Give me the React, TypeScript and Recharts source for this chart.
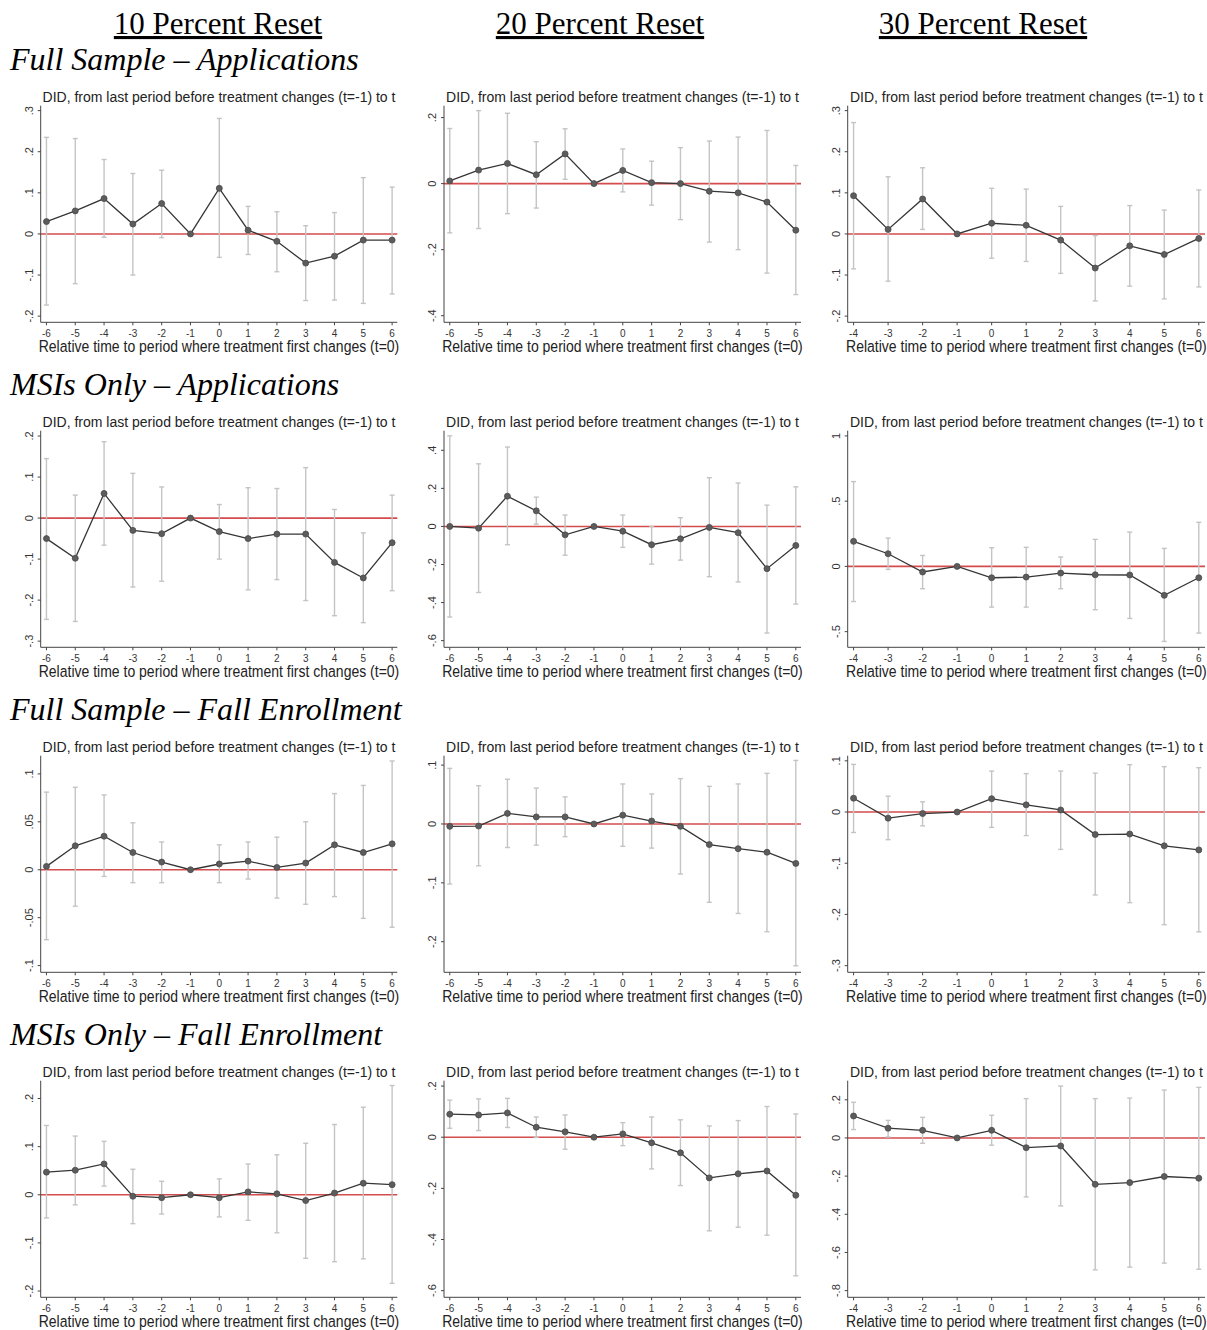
import { ComposedChart, ErrorBar, Line, ReferenceLine, XAxis, YAxis } from "recharts"

// relative time axes
const T_SIX = [-6, -5, -4, -3, -2, -1, 0, 1, 2, 3, 4, 5, 6]
const T_FOUR = [-4, -3, -2, -1, 0, 1, 2, 3, 4, 5, 6]

const COLUMN_HEADS = ["10 Percent Reset", "20 Percent Reset", "30 Percent Reset"]
const ROW_HEADS = [
  "Full Sample – Applications",
  "MSIs Only – Applications",
  "Full Sample – Fall Enrollment",
  "MSIs Only – Fall Enrollment",
]
const PANEL_TITLE = "DID, from last period before treatment changes (t=-1) to t"
const X_LABEL = "Relative time to period where treatment first changes (t=0)"

// Full sample, applications
const est10FullApp = [0.03, 0.056, 0.086, 0.024, 0.074, 0, 0.111, 0.009, -0.018, -0.071, -0.054, -0.015, -0.015]
const lo10FullApp = [-0.173, -0.121, -0.008, -0.1, -0.009, null, -0.057, -0.05, -0.092, -0.162, -0.161, -0.169, -0.146]
const hi10FullApp = [0.235, 0.232, 0.181, 0.147, 0.155, null, 0.281, 0.067, 0.054, 0.02, 0.052, 0.137, 0.114]
const yTicks10FullApp = [-0.2, -0.1, 0, 0.1, 0.2, 0.3]

const est20FullApp = [0.008, 0.041, 0.061, 0.027, 0.09, 0, 0.04, 0.003, 0, -0.023, -0.028, -0.056, -0.141]
const lo20FullApp = [-0.149, -0.136, -0.091, -0.074, 0.013, null, -0.025, -0.065, -0.109, -0.177, -0.2, -0.271, -0.336]
const hi20FullApp = [0.167, 0.221, 0.213, 0.127, 0.166, null, 0.105, 0.068, 0.109, 0.129, 0.141, 0.161, 0.055]
const yTicks20FullApp = [-0.4, -0.2, 0, 0.2]

const est30FullApp = [0.093, 0.011, 0.085, 0, 0.026, 0.021, -0.015, -0.083, -0.029, -0.05, -0.011]
const lo30FullApp = [-0.085, -0.115, 0.011, null, -0.059, -0.067, -0.096, -0.163, -0.127, -0.158, -0.129]
const hi30FullApp = [0.271, 0.139, 0.161, null, 0.111, 0.109, 0.067, -0.004, 0.069, 0.058, 0.107]
const yTicks30FullApp = [-0.2, -0.1, 0, 0.1, 0.2, 0.3]

// MSIs only, applications
const est10MsiApp = [-0.05, -0.098, 0.06, -0.03, -0.038, 0, -0.033, -0.05, -0.039, -0.039, -0.108, -0.146, -0.06]
const lo10MsiApp = [-0.247, -0.252, -0.066, -0.168, -0.154, null, -0.1, -0.175, -0.15, -0.201, -0.238, -0.255, -0.177]
const hi10MsiApp = [0.145, 0.056, 0.186, 0.109, 0.076, null, 0.033, 0.074, 0.072, 0.123, 0.021, -0.036, 0.056]
const yTicks10MsiApp = [-0.3, -0.2, -0.1, 0, 0.1, 0.2]

const est20MsiApp = [0, -0.009, 0.159, 0.082, -0.044, 0, -0.025, -0.096, -0.065, -0.005, -0.033, -0.222, -0.1]
const lo20MsiApp = [-0.476, -0.347, -0.096, 0.012, -0.151, null, -0.11, -0.198, -0.177, -0.264, -0.292, -0.56, -0.408]
const hi20MsiApp = [0.476, 0.329, 0.417, 0.154, 0.06, null, 0.06, 0, 0.046, 0.256, 0.228, 0.112, 0.208]
const yTicks20MsiApp = [-0.6, -0.4, -0.2, 0, 0.2, 0.4]

const est30MsiApp = [0.192, 0.097, -0.043, 0, -0.087, -0.082, -0.051, -0.064, -0.066, -0.222, -0.087]
const lo30MsiApp = [-0.269, -0.023, -0.171, null, -0.312, -0.312, -0.171, -0.332, -0.399, -0.575, -0.511]
const hi30MsiApp = [0.65, 0.217, 0.084, null, 0.143, 0.146, 0.072, 0.207, 0.263, 0.138, 0.338]
const yTicks30MsiApp = [-0.5, 0, 0.5, 1]

// Full sample, fall enrollment
const est10FullFall = [0.0035, 0.025, 0.035, 0.018, 0.008, 0, 0.006, 0.009, 0.0024, 0.007, 0.026, 0.018, 0.027]
const lo10FullFall = [-0.073, -0.038, -0.007, -0.0135, -0.0135, null, -0.0135, -0.0097, -0.0295, -0.036, -0.028, -0.0507, -0.06]
const hi10FullFall = [0.081, 0.086, 0.078, 0.049, 0.029, null, 0.026, 0.029, 0.034, 0.05, 0.0795, 0.088, 0.1135]
const yTicks10FullFall = [-0.1, -0.05, 0, 0.05, 0.1]

const est20FullFall = [-0.004, -0.0035, 0.018, 0.012, 0.012, 0, 0.015, 0.005, -0.004, -0.035, -0.042, -0.048, -0.067]
const lo20FullFall = [-0.102, -0.071, -0.04, -0.036, -0.0215, null, -0.038, -0.041, -0.085, -0.133, -0.152, -0.183, -0.241]
const hi20FullFall = [0.0945, 0.065, 0.076, 0.061, 0.046, null, 0.068, 0.051, 0.077, 0.064, 0.068, 0.086, 0.108]
const yTicks20FullFall = [-0.2, -0.1, 0, 0.1]

const est30FullFall = [0.027, -0.012, -0.003, 0, 0.026, 0.014, 0.004, -0.044, -0.043, -0.066, -0.074]
const lo30FullFall = [-0.04, -0.054, -0.027, null, -0.03, -0.046, -0.073, -0.162, -0.177, -0.22, -0.234]
const hi30FullFall = [0.093, 0.031, 0.02, null, 0.08, 0.075, 0.08, 0.076, 0.0925, 0.0886, 0.0866]
const yTicks30FullFall = [-0.3, -0.2, -0.1, 0, 0.1]

// MSIs only, fall enrollment
const est10MsiFall = [0.047, 0.051, 0.064, -0.003, -0.006, 0, -0.006, 0.006, 0.002, -0.012, 0.0035, 0.024, 0.021]
const lo10MsiFall = [-0.048, -0.021, 0.018, -0.06, -0.04, null, -0.046, -0.053, -0.079, -0.132, -0.139, -0.133, -0.184]
const hi10MsiFall = [0.144, 0.122, 0.111, 0.053, 0.028, null, 0.033, 0.064, 0.083, 0.107, 0.146, 0.182, 0.227]
const yTicks10MsiFall = [-0.2, -0.1, 0, 0.1, 0.2]

const est20MsiFall = [0.09, 0.087, 0.095, 0.039, 0.021, 0, 0.013, -0.022, -0.061, -0.159, -0.143, -0.132, -0.227]
const lo20MsiFall = [0.035, 0.026, 0.038, -0.001, -0.047, null, -0.033, -0.124, -0.189, -0.366, -0.352, -0.383, -0.542]
const hi20MsiFall = [0.145, 0.15, 0.152, 0.079, 0.087, null, 0.057, 0.079, 0.068, 0.044, 0.065, 0.12, 0.091]
const yTicks20MsiFall = [-0.6, -0.4, -0.2, 0, 0.2]

const est30MsiFall = [0.115, 0.051, 0.04, 0, 0.04, -0.051, -0.042, -0.243, -0.234, -0.202, -0.211]
const lo30MsiFall = [0.044, 0.005, -0.028, null, -0.038, -0.309, -0.356, -0.691, -0.677, -0.656, -0.688]
const hi30MsiFall = [0.187, 0.092, 0.108, null, 0.119, 0.206, 0.272, 0.206, 0.209, 0.251, 0.265]
const yTicks30MsiFall = [-0.8, -0.6, -0.4, -0.2, 0, 0.2]

type Panel = {
  t: number[]
  est: number[]
  lo: (number | null)[]
  hi: (number | null)[]
  yTicks: number[]
  yDomain: [number, number]
}

// rows of three panels (10 / 20 / 30 percent)
const PANELS: Panel[][] = [
  [
    { t: T_SIX, est: est10FullApp, lo: lo10FullApp, hi: hi10FullApp, yTicks: yTicks10FullApp, yDomain: [-0.215, 0.312] },
    { t: T_SIX, est: est20FullApp, lo: lo20FullApp, hi: hi20FullApp, yTicks: yTicks20FullApp, yDomain: [-0.42, 0.236] },
    { t: T_FOUR, est: est30FullApp, lo: lo30FullApp, hi: hi30FullApp, yTicks: yTicks30FullApp, yDomain: [-0.215, 0.312] },
  ],
  [
    { t: T_SIX, est: est10MsiApp, lo: lo10MsiApp, hi: hi10MsiApp, yTicks: yTicks10MsiApp, yDomain: [-0.315, 0.213] },
    { t: T_SIX, est: est20MsiApp, lo: lo20MsiApp, hi: hi20MsiApp, yTicks: yTicks20MsiApp, yDomain: [-0.635, 0.503] },
    { t: T_FOUR, est: est30MsiApp, lo: lo30MsiApp, hi: hi30MsiApp, yTicks: yTicks30MsiApp, yDomain: [-0.62, 1.04] },
  ],
  [
    { t: T_SIX, est: est10FullFall, lo: lo10FullFall, hi: hi10FullFall, yTicks: yTicks10FullFall, yDomain: [-0.107, 0.119] },
    { t: T_SIX, est: est20FullFall, lo: lo20FullFall, hi: hi20FullFall, yTicks: yTicks20FullFall, yDomain: [-0.252, 0.116] },
    { t: T_FOUR, est: est30FullFall, lo: lo30FullFall, hi: hi30FullFall, yTicks: yTicks30FullFall, yDomain: [-0.313, 0.11] },
  ],
  [
    { t: T_SIX, est: est10MsiFall, lo: lo10MsiFall, hi: hi10MsiFall, yTicks: yTicks10MsiFall, yDomain: [-0.213, 0.237] },
    { t: T_SIX, est: est20MsiFall, lo: lo20MsiFall, hi: hi20MsiFall, yTicks: yTicks20MsiFall, yDomain: [-0.626, 0.221] },
    { t: T_FOUR, est: est30MsiFall, lo: lo30MsiFall, hi: hi30MsiFall, yTicks: yTicks30MsiFall, yDomain: [-0.835, 0.3] },
  ],
]

// page layout
const ROW_TOP = [85, 410, 735, 1060]
const PANEL_H = 270
const PLOT_TOP = 20.7
const PLOT_BOTTOM = 237.3
const COLS = [
  { box: 0, plotL: 40.7, plotR: 397.3, xDomain: [-6.2, 6.18], head: 218 },
  { box: 405, plotL: 444, plotR: 801, xDomain: [-6.2, 6.18], head: 600 },
  { box: 805, plotL: 847.7, plotR: 1205, xDomain: [-4.17, 6.18], head: 983 },
]

const SANS = "'Liberation Sans', Arial, sans-serif"
const SERIF = "'Liberation Serif', 'Times New Roman', serif"

const stataFmt = (v: number) => String(Math.round(v * 1000) / 1000).replace(/^(-?)0\./, "$1.")

const toRows = (p: Panel) =>
  p.t.map((t, i) => {
    const lo = p.lo[i]
    const hi = p.hi[i]
    return {
      t,
      est: p.est[i],
      err: lo == null || hi == null ? null : [p.est[i] - lo, hi - p.est[i]],
    }
  })

const YTick = (props: any) => {
  const { x, y, payload } = props
  const bx = x - 2.5
  return (
    <text
      x={bx}
      y={y}
      transform={`rotate(-90 ${bx} ${y})`}
      textAnchor="middle"
      fontSize={11}
      fontFamily={SANS}
      fill="#333"
    >
      {stataFmt(payload.value)}
    </text>
  )
}

const DidPanel = ({ panel, row, col }: { panel: Panel; row: number; col: number }) => {
  const c = COLS[col]
  const width = Math.min(c.plotR - c.box + 4, 1207 - c.box)
  const rightPad = width - (c.plotR - c.box)
  return (
    <div style={{ position: "absolute", left: c.box, top: ROW_TOP[row], width, height: PANEL_H }}>
      <ComposedChart
        width={width}
        height={PANEL_H}
        data={toRows(panel)}
        margin={{ top: PLOT_TOP, right: rightPad, bottom: 0, left: 0 }}
      >
        <XAxis
          dataKey="t"
          type="number"
          domain={c.xDomain}
          ticks={panel.t}
          allowDataOverflow
          interval={0}
          height={PANEL_H - PLOT_BOTTOM}
          tickSize={3}
          tickMargin={5}
          stroke="#444"
          tick={{ fontSize: 10, fill: "#333", fontFamily: SANS }}
        />
        <YAxis
          type="number"
          domain={panel.yDomain}
          ticks={panel.yTicks}
          allowDataOverflow
          interval={0}
          width={c.plotL - c.box}
          tickSize={3}
          tickMargin={2}
          stroke="#444"
          tick={<YTick />}
        />
        <ReferenceLine y={0} stroke="#d44c4c" strokeWidth={1.6} />
        <Line
          dataKey="est"
          stroke="#363636"
          strokeWidth={1.3}
          dot={{ r: 3, fill: "#5c5c5c", stroke: "#4a4a4a", strokeWidth: 0.8 }}
          isAnimationActive={false}
        >
          <ErrorBar
            dataKey="err"
            direction="y"
            stroke="#c4c4c4"
            strokeWidth={1.4}
            width={2.5}
            isAnimationActive={false}
          />
        </Line>
      </ComposedChart>
    </div>
  )
}

export default function App() {
  return (
    <div style={{ position: "absolute", left: 0, top: 0, width: 1207, height: 1330, background: "#fff" }}>
      {PANELS.map((row, r) =>
        row.map((panel, c) => <DidPanel key={`${r}-${c}`} panel={panel} row={r} col={c} />),
      )}
      <svg
        width={1207}
        height={1330}
        style={{ position: "absolute", left: 0, top: 0, pointerEvents: "none" }}
      >
        {COLUMN_HEADS.map((h, c) => (
          <text
            key={h}
            x={COLS[c].head}
            y={34}
            textAnchor="middle"
            fontSize={31}
            fontFamily={SERIF}
            fill="#000"
            style={{ textDecoration: "underline" }}
          >
            {h}
          </text>
        ))}
        {ROW_HEADS.map((h, r) => (
          <text
            key={h}
            x={10}
            y={ROW_TOP[r] - 15}
            fontSize={32}
            fontStyle="italic"
            fontFamily={SERIF}
            fill="#000"
          >
            {h}
          </text>
        ))}
        {ROW_TOP.map((top, r) =>
          COLS.map((c, ci) => {
            const cx = (c.plotL + c.plotR) / 2
            return (
              <g key={`lab-${r}-${ci}`}>
                <text
                  x={cx}
                  y={top + 17}
                  textAnchor="middle"
                  fontSize={14}
                  fontFamily={SANS}
                  fill="#222"
                >
                  {PANEL_TITLE}
                </text>
                <text
                  transform={`translate(${cx} ${top + 266.5}) scale(1 1.12)`}
                  x={0}
                  y={0}
                  textAnchor="middle"
                  fontSize={14}
                  fontFamily={SANS}
                  fill="#222"
                >
                  {X_LABEL}
                </text>
              </g>
            )
          }),
        )}
      </svg>
    </div>
  )
}
